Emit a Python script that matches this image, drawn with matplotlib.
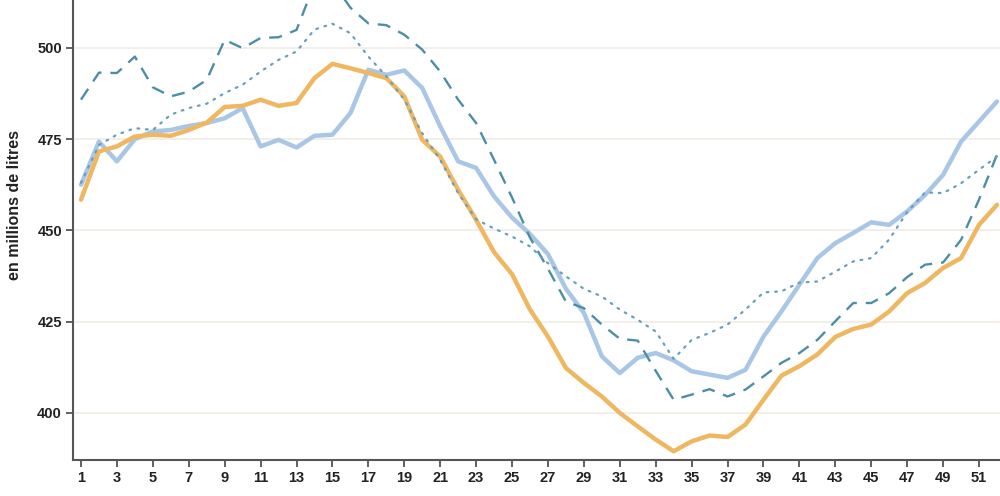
import matplotlib
matplotlib.use("Agg")
import matplotlib.pyplot as plt

plt.rcParams['font.family'] = ['Liberation Sans', 'DejaVu Sans']

# weeks of the year
weeks = list(range(1, 53))

# solid light blue series
serie_bleue = [462.5, 474.3, 468.9, 475.0, 477.1, 477.5, 478.6, 479.4, 480.7, 483.5,
               473.0, 474.8, 472.7, 475.9, 476.2, 482.1, 494.0, 492.6, 493.8, 489.0,
               478.5, 468.9, 467.1, 459.3, 453.5, 449.0, 443.5, 434.0, 427.4, 415.5,
               410.9, 415.1, 416.4, 414.4, 411.4, 410.5, 409.6, 411.8, 420.9, 427.8,
               435.1, 442.4, 446.5, 449.3, 452.2, 451.5, 455.2, 459.7, 465.2, 474.3,
               479.8, 485.3]

# solid orange series
serie_orange = [458.4, 471.6, 473.0, 475.7, 476.2, 475.9, 477.5, 479.5, 483.8, 484.1,
                485.8, 484.1, 484.9, 491.7, 495.6, 494.4, 493.1, 491.7, 486.7, 474.8,
                470.2, 461.1, 452.9, 444.0, 438.0, 428.3, 420.9, 412.3, 408.2, 404.5,
                400.0, 396.3, 392.7, 389.5, 392.2, 393.8, 393.4, 396.8, 403.6, 410.2,
                412.8, 416.0, 420.8, 423.0, 424.2, 427.8, 432.8, 435.6, 439.7, 442.4,
                451.5, 457.0]

# dashed series
serie_tirets = [485.8, 493.2, 493.1, 497.6, 489.2, 486.7, 488.0, 491.2, 502.2, 499.9,
                502.7, 502.9, 504.9, 517.5, 518.0, 511.0, 506.7, 506.2, 503.6, 499.5,
                493.5, 485.8, 479.4, 469.3, 459.0, 448.0, 439.5, 430.5, 428.7, 424.2,
                420.3, 419.8, 411.5, 403.6, 405.0, 406.5, 404.5, 406.4, 410.0, 413.7,
                416.4, 420.0, 425.1, 430.1, 430.1, 432.8, 437.2, 440.6, 441.2, 447.4,
                458.4, 470.7]

# dotted series
serie_points = [463.0, 473.4, 476.2, 478.0, 477.5, 481.7, 483.5, 484.7, 487.6, 489.9,
                493.5, 496.7, 499.0, 505.0, 506.6, 504.0, 497.6, 492.2, 485.8, 476.6,
                469.3, 460.2, 453.0, 450.5, 448.3, 445.6, 441.0, 437.4, 434.0, 431.9,
                428.3, 425.5, 422.3, 414.8, 420.0, 421.9, 424.2, 428.3, 433.0, 433.3,
                435.7, 436.0, 438.7, 441.5, 442.4, 447.5, 455.0, 460.4, 460.2, 462.9,
                466.6, 470.2]

y_ticks = [400, 425, 450, 475, 500]
x_ticks = list(range(1, 53, 2))

fig = plt.figure(figsize=(10, 4.96), dpi=100)
ax = fig.add_axes([0.073, 0.0726, 0.927, 0.9274])

# gridlines
for t in y_ticks:
    ax.axhline(t, color='#f1ece4', lw=1.2, zorder=0)

ax.plot(weeks, serie_bleue, color='#a9c6e7', lw=3.2, solid_capstyle='round', zorder=2)
ax.plot(weeks, serie_orange, color='#efb760', lw=3.2, solid_capstyle='round', zorder=3)
ax.plot(weeks, serie_tirets, color='#4d8ea4', lw=1.7, dashes=(5.5, 3.8), zorder=4)
ax.plot(weeks, serie_points, color='#6a9fbc', lw=1.6, dashes=(0.8, 3.0),
        dash_capstyle='round', zorder=5)

ax.set_xlim(0.555, 52.17)
ax.set_ylim(387.1, 513.1)

ax.set_xticks(x_ticks)
ax.set_yticks(y_ticks)
ax.tick_params(axis='both', colors='#555555', length=5, width=1.3, labelsize=10.5,
               labelcolor='#222222', pad=3)
for lab in ax.get_xticklabels() + ax.get_yticklabels():
    lab.set_fontweight('bold')

for side in ['top', 'right']:
    ax.spines[side].set_visible(False)
for side in ['left', 'bottom']:
    ax.spines[side].set_color('#555555')
    ax.spines[side].set_linewidth(1.5)

fig.text(0.015, 1 - 205 / 496, 'en millions de litres', rotation=90,
         ha='center', va='center', fontsize=11.5, fontweight='bold', color='#222222')

fig.savefig('out.png', dpi=100)
